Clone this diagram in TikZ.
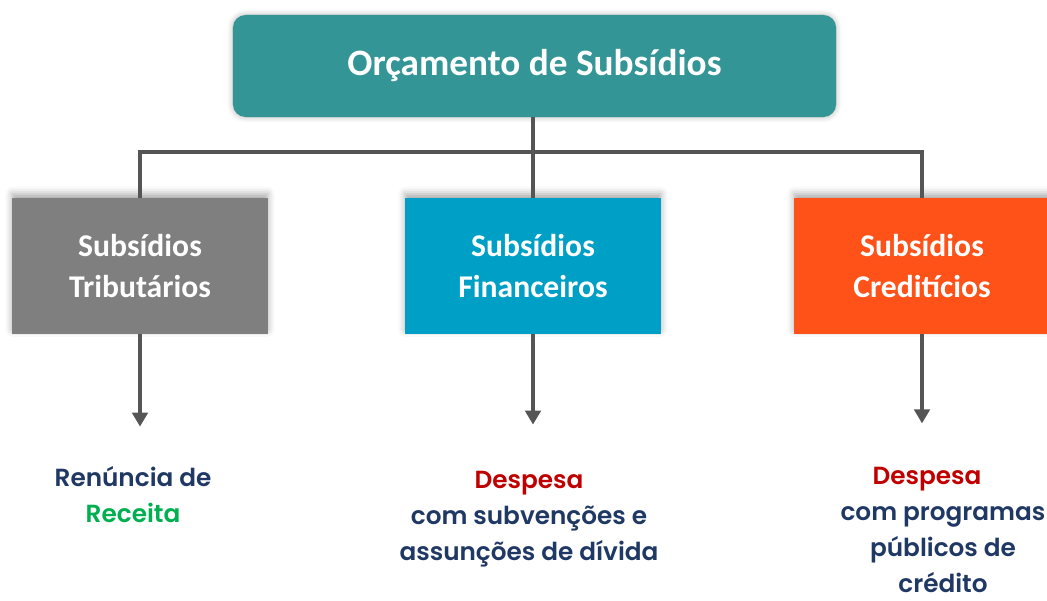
\documentclass[tikz,border=0pt]{standalone}
\usepackage{fontspec}
\setmainfont{Carlito}
\newfontfamily\popfont{Poppins}[UprightFont={* SemiBold},BoldFont={* Bold}]
\usetikzlibrary{shadows.blur,arrows.meta}

\definecolor{tealbox}{HTML}{339595}
\definecolor{graybox}{HTML}{7F7F7F}
\definecolor{bluebox}{HTML}{00A0C6}
\definecolor{orangebox}{HTML}{FF5218}
\definecolor{linegray}{HTML}{555555}
\definecolor{navytext}{HTML}{1F3864}
\definecolor{greentext}{HTML}{00B050}
\definecolor{redtext}{HTML}{C00000}

\tikzset{
  subbox/.style={minimum width=6.375cm, minimum height=3.4cm, inner sep=0pt, align=center,
    text=white, font=\bfseries\fontsize{22.5}{28.5}\selectfont,
    blur shadow={shadow xshift=0pt, shadow yshift=3pt, shadow blur radius=5pt, shadow opacity=35}},
  conn/.style={linegray, line width=2.8pt},
  arr/.style={conn, -{Triangle[length=10pt, width=11pt]}},
  result/.style={anchor=north, inner sep=0pt, align=center, text=navytext,
    font=\popfont\fontsize{17.6}{25.5}\selectfont}
}

\begin{document}
\begin{tikzpicture}[x=0.025cm, y=-0.025cm]
    \useasboundingbox (0,0) rectangle (1047,600);

    \node[fill=tealbox, rounded corners=9pt, minimum width=15.075cm, minimum height=2.55cm,
      text=white, font=\bfseries\fontsize{26.5}{30}\selectfont,
      blur shadow={shadow xshift=0pt, shadow yshift=0pt, shadow blur radius=4pt, shadow opacity=30}]
      (orc) at (534.5,66) {Orçamento de Subsídios};

    \node[subbox, fill=graybox] (trib) at (140,266) {Subsídios\\Tributários};
    \node[subbox, fill=bluebox] (fin) at (533,266) {Subsídios\\Financeiros};
    \node[subbox, fill=orangebox] (cred) at (922,266) {Subsídios\\Creditícios};

    \node[result] (ltrib) at (133,466) {Renúncia de\\{\color{greentext}Receita}};
    \node[result] (lfin) at (529,471) {{\color{redtext}Despesa}\\com subvenções e\\assunções de dívida};
    \node[result] (lcred) at (943,467) {{\color{redtext}Despesa}\hspace*{0.8cm}\\com programas\\públicos de\\crédito};

    \coordinate (bar) at (533,152);
    \draw[conn] (fin.north |- orc.south) -- (fin.north);
    \draw[conn] (trib.north) -- (trib.north |- bar) -- (cred.north |- bar) -- (cred.north);

    \draw[arr, shorten >=28pt] (trib.south) -- (trib.south |- ltrib.north);
    \draw[arr, shorten >=33pt] (fin.south) -- (fin.south |- lfin.north);
    \draw[arr, shorten >=31pt] (cred.south) -- (cred.south |- lcred.north);
 \end{tikzpicture}
\end{document}
